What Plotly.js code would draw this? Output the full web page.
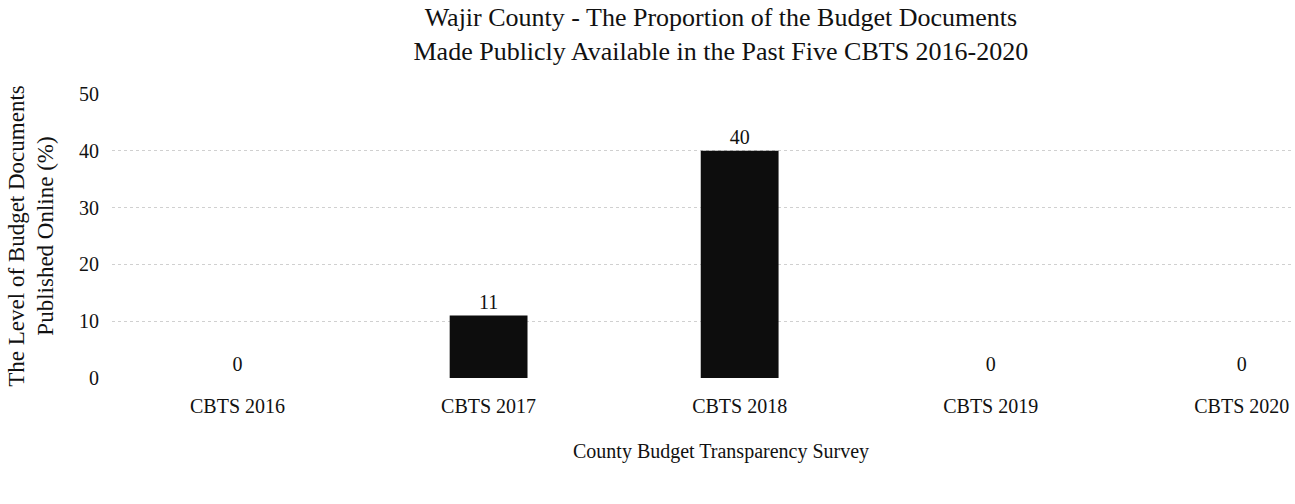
<!DOCTYPE html>
<html>
<head>
<meta charset="utf-8">
<script src="https://cdn.plot.ly/plotly-3.0.1.min.js"></script>
<style>html,body{margin:0;padding:0;background:#fff;}#chart{width:1295px;height:504px;}</style>
</head>
<body>
<div id="chart"></div>
<script>
const categories = ["CBTS 2016", "CBTS 2017", "CBTS 2018", "CBTS 2019", "CBTS 2020"];
const values = [0, 11, 40, 0, 0];
const yTicks = [0, 10, 20, 30, 40, 50];

const serif = "Liberation Serif, Times New Roman, serif";

const trace = {
  type: "bar",
  x: categories,
  y: values,
  text: values.map(String),
  textposition: "outside",
  cliponaxis: false,
  textfont: {family: serif, size: 20, color: "#111"},
  marker: {color: "#0d0d0d"},
  width: 0.31,
  hoverinfo: "x+y"
};

const layout = {
  width: 1295,
  height: 504,
  margin: {l: 112, r: 3, t: 94, b: 126},
  paper_bgcolor: "#fff",
  plot_bgcolor: "#fff",
  showlegend: false,
  font: {family: serif, size: 20, color: "#111"},
  title: {
    text: "Wajir County - The Proportion of the Budget Documents<br>Made Publicly Available in the Past Five CBTS 2016-2020",
    font: {family: serif, size: 26, color: "#111"},
    xref: "paper", x: 0.516, xanchor: "center",
    yref: "container", y: 0.949, yanchor: "middle"
  },
  xaxis: {
    type: "category",
    range: [-0.5, 4.2],
    showgrid: false,
    zeroline: false,
    showline: false,
    ticks: "",
    tickfont: {family: serif, size: 20, color: "#111"},
    ticklabelstandoff: 14
  },
  yaxis: {
    range: [0, 50],
    tickvals: yTicks,
    ticktext: yTicks.map(String),
    showgrid: true,
    gridcolor: "#d0d0d0",
    griddash: "dot",
    gridwidth: 1,
    zeroline: false,
    showline: false,
    ticks: "",
    ticklabelstandoff: 12,
    tickfont: {family: serif, size: 20, color: "#111"},
    title: {
      text: "The Level of Budget Documents<br>Published Online (%)",
      font: {family: serif, size: 23, color: "#111"},
      standoff: 18
    }
  },
  annotations: [{
    text: "County Budget Transparency Survey",
    xref: "paper", yref: "paper",
    x: 0.516, y: -0.26,
    xanchor: "center", yanchor: "middle",
    showarrow: false,
    font: {family: serif, size: 20, color: "#111"}
  }]
};

Plotly.newPlot("chart", [trace], layout, {displayModeBar: false, staticPlot: true});
</script>
</body>
</html>
